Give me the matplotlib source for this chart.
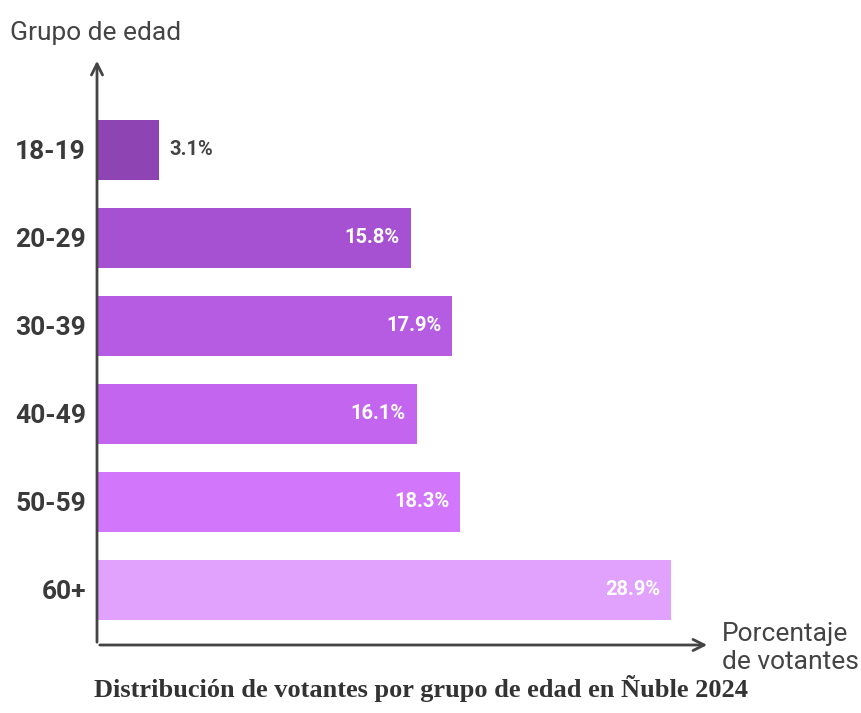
import matplotlib.pyplot as plt

# data
grupos = ["18-19", "20-29", "30-39", "40-49", "50-59", "60+"]
porcentajes = [3.1, 15.8, 17.9, 16.1, 18.3, 28.9]
colores = ["#8e44b3", "#a651d1", "#b65ce2", "#c465f0", "#d277fb", "#e0a2fc"]

W, H = 861, 713
fig = plt.figure(figsize=(W / 100, H / 100), dpi=100)
fig.patch.set_facecolor("white")

# axes box in pixel terms: x 97..710, y 58..645
ax = fig.add_axes([97 / W, 1 - 645 / H, (710 - 97) / W, (645 - 58) / H])
ax.set_xlim(0, 30.87)
ax.set_ylim(-0.625, 6.045)

ypos = list(range(len(grupos)))[::-1]  # first group on top
ax.barh(ypos, porcentajes, height=0.68, color=colores, zorder=2)

for y, v in zip(ypos, porcentajes):
    lbl = f"{v}%"
    if v < 5:
        ax.text(v + 0.55, y, lbl, va="center", ha="left", fontsize=14.5,
                fontweight="bold", color="#444444", family="Roboto")
    else:
        ax.text(v - 0.55, y, lbl, va="center", ha="right", fontsize=14.5,
                fontweight="bold", color="white", family="Roboto")

ax.set_yticks(ypos)
ax.set_yticklabels(grupos, fontsize=19, fontweight="bold", color="#3a3a3a",
                   family="Roboto")
ax.tick_params(axis="y", length=0, pad=8)
ax.set_xticks([])
for s in ax.spines.values():
    s.set_visible(False)

# axis arrows
arrow = dict(arrowstyle="->", color="#444444", lw=2, mutation_scale=20)
ax.annotate("", xy=(0, 1.0), xytext=(0, 0), xycoords="axes fraction",
            arrowprops=arrow, annotation_clip=False)
ax.annotate("", xy=(1.0, 0), xytext=(0, 0), xycoords="axes fraction",
            arrowprops=arrow, annotation_clip=False)

fig.text(10 / W, 1 - 33 / H, "Grupo de edad", fontsize=19, color="#444444",
         va="center", ha="left", family="Roboto")
fig.text(722 / W, 1 - 648 / H, "Porcentaje\nde votantes", fontsize=19,
         color="#444444", va="center", ha="left", family="Roboto",
         linespacing=1.25)
fig.text(421 / W, 1 - 689 / H, "Distribución de votantes por grupo de edad en Ñuble 2024",
         fontsize=19, fontweight="bold", color="#333333", ha="center",
         va="center", family="Liberation Serif")

fig.savefig("out.png", dpi=100, facecolor="white")
